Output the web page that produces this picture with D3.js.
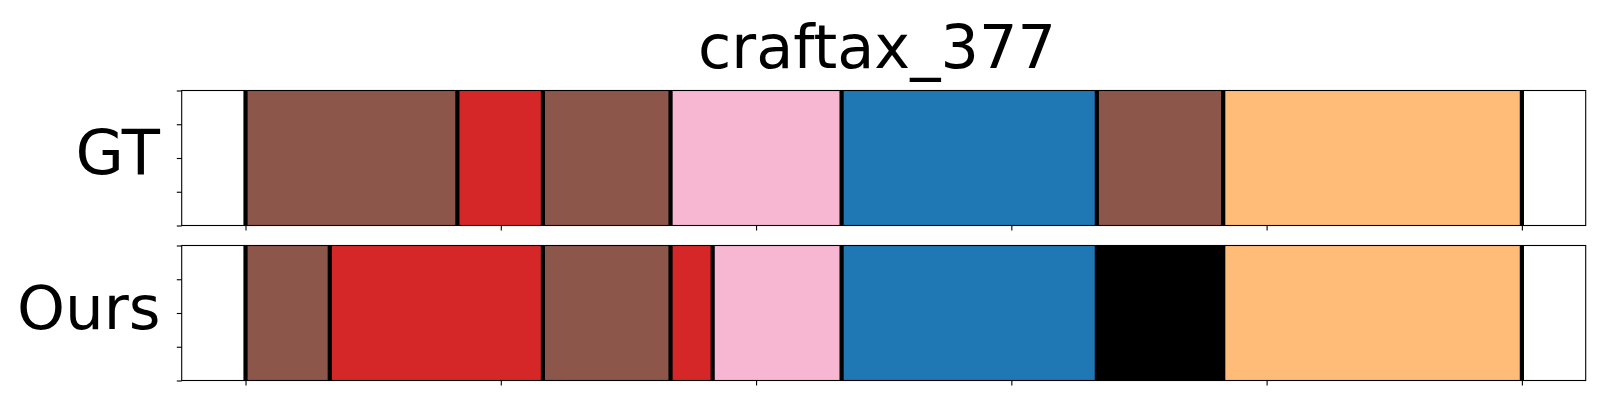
<!DOCTYPE html>
<html>
<head>
<meta charset="utf-8">
<script src="https://cdn.jsdelivr.net/npm/d3@7"></script>
<style>
  html, body { margin: 0; padding: 0; background: #fff; }
  svg { display: block; }
  text { font-family: "DejaVu Sans", sans-serif; fill: #000; }
</style>
</head>
<body>
<script>
// ---- data ----
const title = "craftax_377";
const rowLabels = ["GT", "Ours"];
// segment boundaries (frame positions) for each row
const gtBounds = [0, 166, 233, 333, 467, 667, 766, 1000];
const gtClasses = ["brown", "red", "brown", "pink", "blue", "brown", "orange"];
const oursBounds = [0, 66, 233, 333, 366, 467, 667, 766, 1000];
const oursClasses = ["brown", "red", "brown", "red", "pink", "blue", "none", "orange"];
const xTicks = [0, 200, 400, 600, 800, 1000];
const yTicks = [0, 0.25, 0.5, 0.75, 1];
const xDomain = [-50, 1050];

// ---- style ----
const colorMap = {
  brown: "#8c564b", red: "#d62728", pink: "#f7b6d2",
  blue: "#1f77b4", orange: "#ffbb78", none: "#000000"
};
const W = 1600, H = 400;
const axLeft = 181.7, axRight = 1585.7;
const rows = [
  { label: rowLabels[0], bounds: gtBounds, classes: gtClasses, top: 90.5, bottom: 225.5, lx: 160, fs: 62.5 },
  { label: rowLabels[1], bounds: oursBounds, classes: oursClasses, top: 245.5, bottom: 380.5, lx: 160.5, fs: 61 }
];

const svg = d3.select("body").append("svg").attr("width", W).attr("height", H);
const x = d3.scaleLinear().domain(xDomain).range([axLeft, axRight]);

svg.append("text")
  .attr("x", 877)
  .attr("y", 67.5)
  .attr("text-anchor", "middle")
  .style("font-size", "60.5px")
  .text(title);

rows.forEach(r => {
  const g = svg.append("g");
  const y = d3.scaleLinear().domain([0, 1]).range([r.bottom, r.top]);
  const segs = r.classes.map((c, i) => ({ c, x0: r.bounds[i], x1: r.bounds[i + 1] }));

  g.selectAll("rect.seg").data(segs).join("rect")
    .attr("class", "seg")
    .attr("x", d => x(d.x0))
    .attr("width", d => x(d.x1) - x(d.x0))
    .attr("y", y(1))
    .attr("height", y(0) - y(1))
    .attr("fill", d => colorMap[d.c]);

  g.selectAll("line.bd").data(r.bounds).join("line")
    .attr("class", "bd")
    .attr("x1", d => x(d)).attr("x2", d => x(d))
    .attr("y1", y(1)).attr("y2", y(0))
    .attr("stroke", "#000").attr("stroke-width", 4.2);

  const ax = g.append("g").attr("transform", `translate(${axLeft},0)`)
    .call(d3.axisLeft(y).tickValues(yTicks).tickFormat("").tickSize(4.9).tickSizeOuter(0));
  ax.select(".domain").remove();
  ax.selectAll(".tick line").attr("stroke-width", 1.1);

  const bx = g.append("g").attr("transform", `translate(0,${r.bottom})`)
    .call(d3.axisBottom(x).tickValues(xTicks).tickFormat("").tickSize(4.9).tickSizeOuter(0));
  bx.select(".domain").remove();
  bx.selectAll(".tick line").attr("stroke-width", 1.1);

  g.append("rect")
    .attr("x", axLeft).attr("y", r.top)
    .attr("width", axRight - axLeft).attr("height", r.bottom - r.top)
    .attr("fill", "none").attr("stroke", "#000").attr("stroke-width", 1.1);

  g.append("text")
    .attr("x", r.lx)
    .attr("y", (r.top + r.bottom) / 2 + 16.4)
    .attr("text-anchor", "end")
    .style("font-size", r.fs + "px")
    .text(r.label);
});
</script>
</body>
</html>
